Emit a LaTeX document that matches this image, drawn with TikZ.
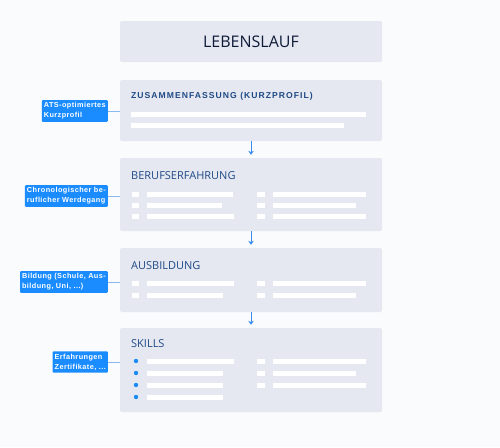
\documentclass[tikz,border=0pt]{standalone}
\usepackage{fontspec}
\setmainfont{Open Sans}
\newfontfamily\spacedfont[LetterSpace=12]{Liberation Sans}
\newfontfamily\labelfont[LetterSpace=6]{Liberation Sans}
\usetikzlibrary{positioning,arrows.meta}

\definecolor{pagebg}{HTML}{FAFBFD}
\definecolor{boxfill}{HTML}{E5E8F1}
\definecolor{headblue}{HTML}{1F4A86}
\definecolor{titleblue}{HTML}{0E1A38}
\definecolor{labelblue}{HTML}{1A8CFF}
\definecolor{linkblue}{HTML}{8DB8EE}
\definecolor{arrowblue}{HTML}{3A8DEE}

\begin{document}
\begin{tikzpicture}[
x=1pt,
y=-1pt,
sectionbox/.style={rectangle, fill=boxfill, rounded corners=2pt, minimum width=262pt, inner sep=0pt},
sectionhead/.style={anchor=west, inner sep=0pt, text=headblue, font=\fontsize{11}{13}\selectfont},
sidelabel/.style={rectangle, fill=labelblue, rounded corners=1pt, text=white, align=left, anchor=east,
  inner xsep=2pt, inner ysep=2.5pt, font=\labelfont\bfseries\fontsize{7.3}{10}\selectfont},
bar/.style={fill=white},
flow/.style={-{Stealth[length=4pt,width=5.5pt]}, arrowblue, line width=0.7pt},
link/.style={linkblue, line width=0.8pt},
]
\fill[pagebg] (0,0) rectangle (500,447);

% the boxes
\node[sectionbox, minimum height=41pt, font=\fontsize{16}{18}\selectfont, text=titleblue] (title) at (251,41.5) {LEBENSLAUF};
\node[sectionbox, minimum height=61pt] (summary) at (251,110.5) {};
\node[sectionbox, minimum height=73pt] (career) at (251,194.5) {};
\node[sectionbox, minimum height=64pt] (school) at (251,280) {};
\node[sectionbox, minimum height=84pt] (skills) at (251,370) {};

% headings
\node[anchor=west, inner sep=0pt, text=headblue, font=\spacedfont\bfseries\fontsize{8.6}{10}\selectfont] (summaryhead) at (131,96) {ZUSAMMENFASSUNG (KURZPROFIL)};
\node[sectionhead] (careerhead) at (131,176) {BERUFSERFAHRUNG};
\node[sectionhead] (schoolhead) at (131,266) {AUSBILDUNG};
\node[sectionhead] (skillshead) at (131,344) {SKILLS};

% placeholder lines
\fill[bar] (131,111.5) rectangle (366,116.5);
\fill[bar] (131,122.5) rectangle (344,127.5);
\foreach \y/\l/\r in {194/233/366, 205/222/356, 216/234/366, 283/234/366, 295/223/356}
{
 \fill[bar] (132,\y-2.5) rectangle (139,\y+2.5);
 \fill[bar] (147,\y-2.5) rectangle (\l,\y+2.5);
 \fill[bar] (257,\y-2.5) rectangle (265,\y+2.5);
 \fill[bar] (273,\y-2.5) rectangle (\r,\y+2.5);
}
\foreach \y/\l in {361/234, 373/223, 385/223, 397/223}
{
 \fill[labelblue] (136,\y) circle (2.2);
 \fill[bar] (147,\y-2.5) rectangle (\l,\y+2.5);
}
\foreach \y/\r in {361/366, 373/356, 385/366}
{
 \fill[bar] (257,\y-2.5) rectangle (265,\y+2.5);
 \fill[bar] (273,\y-2.5) rectangle (\r,\y+2.5);
}

% arrows
\draw[flow] (summary.south) -- ([yshift=3pt]career.north);
\draw[flow] (career.south) -- ([yshift=3pt]school.north);
\draw[flow] (school.south) -- ([yshift=3pt]skills.north);

% side labels
\node[sidelabel] (summarylabel) at (108,111) {ATS-optimiertes\\Kurzprofil};
\node[sidelabel] (careerlabel) at (108,196) {Chronologischer be-\\ruflicher Werdegang};
\node[sidelabel] (schoollabel) at (108,282) {Bildung (Schule, Aus-\\bildung, Uni, ...)};
\node[sidelabel] (skillslabel) at (108,362) {Erfahrungen\\Zertifikate, ...};
\draw[link] (summarylabel.east) -- (summarylabel.east -| summary.west);
\draw[link] (careerlabel.east) -- (careerlabel.east -| career.west);
\draw[link] (schoollabel.east) -- (schoollabel.east -| school.west);
\draw[link] (skillslabel.east) -- (skillslabel.east -| skills.west);
\end{tikzpicture}
\end{document}
